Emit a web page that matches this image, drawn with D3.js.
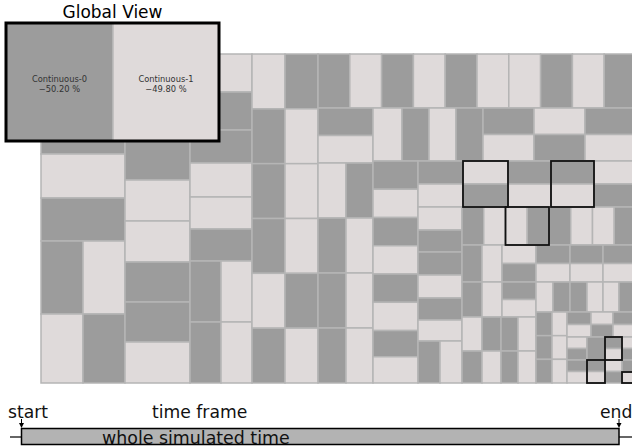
<!DOCTYPE html>
<html><head><meta charset="utf-8">
<script src="https://cdn.jsdelivr.net/npm/d3@7"></script>
<style>body{margin:0;background:#fff}svg{display:block;font-family:"DejaVu Sans",sans-serif}</style>
</head><body>
<script>
// Categories of the aggregated states and their global share (%)
const categories = ["Continuous-0", "Continuous-1"];
const shares = [50.20, 49.80];
const timeLabels = ["start", "time frame", "end"];
const timeDomain = [0, 1];

// Hierarchical aggregation: "h" = parts side by side, "v" = parts stacked,
// second entry = relative amount; leaves "d" = Continuous-0, "l" = Continuous-1;
// upper case = highlighted part.
const colA = ["v", 84, ["l",56], ["d",44], ["l",44], ["d",43], ["h",73,"d","l"], ["h",69,"l","d"]];
const colB = ["v", 65, ["l",44], ["d",41], ["d",41], ["l",41], ["l",41], ["d",40], ["d",40], ["l",41]];
const colC = ["v", 62, ["l",38], ["d",38], ["d",33], ["l",34], ["l",32], ["d",32], ["h",61,"d","l"], ["h",61,"d","l"]];
const colD = ["v", 33, "l","d","d","d","l","d"];
const colE = ["v", 33, "d","l","l","l","d","l"];
const topRow = ["h", 54, "d","l","d","l","d","l","l","d","l","d"];
const colFG = ["v", 55, ["v",55,"d","l"], ["h",55,["l",28],["d",27]], ["h",55,["d",28],["l",27]], ["h",55,["d",28],["l",27]], ["h",55,["d",28],["l",27]]];
const rowS1 = ["h", 53, ["l",29], ["d",27], ["l",27], ["d",27], ["v",51,"d","l"], ["v",51,"l","d"], ["v",51,"d","l"]];
const colH = ["v", 45, ["d",28],["l",28],["d",28],["l",28],["d",28],["l",28],["d",26],["l",26]];
const rowT1 = ["h", 46, ["v",45,"d","l"], ["V",45,"l","d"], ["v",43,"d","l"], ["V",43,"d","l"], ["v",42,"l","d"]];
const colI = ["v", 44, ["l",23],["d",22],["d",23],["l",23],["d",22],["l",21],["h",42,"d","l"]];
const rowU1 = ["h", 38, "d","l",["H",2,"l","d"],"d","l","l","d"];
const blockV = ["v", 74,
  ["h",37,["d",20],["l",20],["v",34,"l","d"]],
  ["h",35,["d",20],["l",20],["v",34,"d","l"]],
  ["h",34,["l",20],["d",19],["d",17],["l",18]],
  ["h",32,["d",20],["l",19],["d",17],["l",18]]];
const rowW1 = ["h", 37, ["v",34,"d","l"], ["v",33,"d","l"], ["v",33,"d","l"]];
const rowW2 = ["h", 30, ["l",17],["d",17],["d",17],["l",16],["l",16],["d",17]];
const blockW3 = ["h", 71, ["v",16,"d","d","d"], ["v",15,"l","l","l"],
  ["v",69,
    ["h",25,["v",24,"d","l"],["v",22,"l","d"],["v",23,"d","l"]],
    ["h",23,["v",20,"l","d"],["d",18],["V",17,"d","l"],["v",14,"l","d"]],
    ["h",23,["v",20,"d","l"],["V",18,"d","l"],["v",17,"l","d"],["v",14,["d",12],["L",11]]]]];

const tree = ["h", 1, colA, colB, colC, colD, colE,
  ["v", 318, topRow,
    ["h", 275, colFG,
      ["v", 263, rowS1,
        ["h", 222, colH,
          ["v", 218, rowT1,
            ["h", 176, colI,
              ["v", 174, rowU1,
                ["h", 138, blockV, ["v", 100, rowW1, rowW2, blockW3]]]]]]]]]];

const colors = ["#9c9c9c", "#dfdada"];
const gridStroke = "#b5b5b5";

function leaf(c, w) { return {cat: c.toLowerCase() === "d" ? 0 : 1, hi: c === c.toUpperCase(), w: w}; }
function parse(n) {
  if (typeof n === "string") return leaf(n, 1);
  const k = n[0];
  if ("hvHV".includes(k)) return {dir: k.toLowerCase(), hi: k === k.toUpperCase(), w: n[1], children: n.slice(2).map(parse)};
  return leaf(n[0], n[1]);
}
function assignArea(node, area) {
  node.area = area;
  if (node.children) {
    const s = d3.sum(node.children, c => c.w);
    node.children.forEach(c => assignArea(c, area * c.w / s));
  }
}
const rootData = parse(tree);
assignArea(rootData, 1);

const W = 632, H = 447;
const svg = d3.select("body").append("svg").attr("width", W).attr("height", H);

const x = d3.scaleLinear().domain([0, 1]).range([41, 636]);
const y = d3.scaleLinear().domain([0, 1]).range([54, 383]);

const tile = (node, x0, y0, x1, y1) =>
  (node.data.dir === "h" ? d3.treemapDice : d3.treemapSlice)(node, x0, y0, x1, y1);

const root = d3.hierarchy(rootData).sum(d => d.children ? 0 : d.area);
d3.treemap().tile(tile).size([1, 1]).round(false)(root);

const main = svg.append("g");
main.selectAll("rect.cell").data(root.leaves()).join("rect")
  .attr("class", "cell")
  .attr("x", d => x(d.x0)).attr("y", d => y(d.y0))
  .attr("width", d => x(d.x1) - x(d.x0)).attr("height", d => y(d.y1) - y(d.y0))
  .attr("fill", d => colors[d.data.cat])
  .attr("stroke", gridStroke).attr("stroke-width", 1.5);

main.selectAll("rect.hi").data(root.descendants().filter(d => d.data.hi)).join("rect")
  .attr("class", "hi")
  .attr("x", d => x(d.x0)).attr("y", d => y(d.y0))
  .attr("width", d => x(d.x1) - x(d.x0)).attr("height", d => y(d.y1) - y(d.y0))
  .attr("fill", "none").attr("stroke", "#111").attr("stroke-width", 1.8);

// Global view overlay
const gx = d3.scaleLinear().domain([0, 1]).range([6, 219]);
const gy = d3.scaleLinear().domain([0, 1]).range([23, 141]);
const groot = d3.hierarchy({children: categories.map((c, i) => ({name: c, share: shares[i], cat: i}))})
  .sum(d => d.share || 0);
d3.treemap().tile(d3.treemapDice).size([1, 1]).round(false)(groot);
const gv = svg.append("g");
gv.selectAll("rect").data(groot.leaves()).join("rect")
  .attr("x", d => gx(d.x0)).attr("y", d => gy(d.y0))
  .attr("width", d => gx(d.x1) - gx(d.x0)).attr("height", d => gy(d.y1) - gy(d.y0))
  .attr("fill", d => colors[d.data.cat]).attr("stroke", gridStroke).attr("stroke-width", 1.5);
const lab = gv.selectAll("text.lab").data(groot.leaves()).join("text")
  .attr("class", "lab")
  .attr("text-anchor", "middle").attr("font-size", 8.3).attr("fill", "#333")
  .attr("x", d => (gx(d.x0) + gx(d.x1)) / 2)
  .attr("y", d => (gy(d.y0) + gy(d.y1)) / 2 - 0.5);
lab.append("tspan").text(d => d.data.name);
lab.append("tspan").attr("x", d => (gx(d.x0) + gx(d.x1)) / 2).attr("dy", 10)
  .text(d => "\u2212" + d3.format(".2f")(d.data.share) + " %");
gv.append("rect").attr("x", gx(0)).attr("y", gy(0))
  .attr("width", gx(1) - gx(0)).attr("height", gy(1) - gy(0))
  .attr("fill", "none").attr("stroke", "#000").attr("stroke-width", 3);
gv.append("text").attr("x", (gx(0) + gx(1)) / 2).attr("y", 18)
  .attr("text-anchor", "middle").attr("font-size", 17).attr("fill", "#000").text("Global View");

// Time line
const t = d3.scaleLinear().domain(timeDomain).range([21.5, 619]);
const tl = svg.append("g");
tl.append("line").attr("x1", 10).attr("x2", t(0)).attr("y1", 437).attr("y2", 437).attr("stroke", "#000").attr("stroke-width", 1.2);
tl.append("line").attr("x1", t(1)).attr("x2", 632).attr("y1", 437).attr("y2", 437).attr("stroke", "#000").attr("stroke-width", 1.2);
tl.append("rect").attr("x", t(0)).attr("y", 428.5).attr("width", t(1) - t(0)).attr("height", 16)
  .attr("fill", "#b3b3b3").attr("stroke", "#000").attr("stroke-width", 1.5);
tl.append("text").attr("x", 102).attr("y", 444).attr("font-size", 17.4).attr("fill", "#111").text("whole simulated time");
[timeDomain[0], timeDomain[1]].forEach(v => {
  tl.append("line").attr("x1", t(v)).attr("x2", t(v)).attr("y1", 419).attr("y2", 426).attr("stroke", "#000").attr("stroke-width", 1);
  tl.append("path").attr("d", `M${t(v) - 2.5},423 L${t(v) + 2.5},423 L${t(v)},428 Z`).attr("fill", "#000");
});
tl.append("text").attr("x", 8).attr("y", 418).attr("font-size", 17.2).attr("fill", "#111").text(timeLabels[0]);
tl.append("text").attr("x", 152).attr("y", 418).attr("font-size", 17.2).attr("fill", "#111").text(timeLabels[1]);
tl.append("text").attr("x", 600).attr("y", 418).attr("font-size", 17.2).attr("fill", "#111").text(timeLabels[2]);
</script>
</body></html>
